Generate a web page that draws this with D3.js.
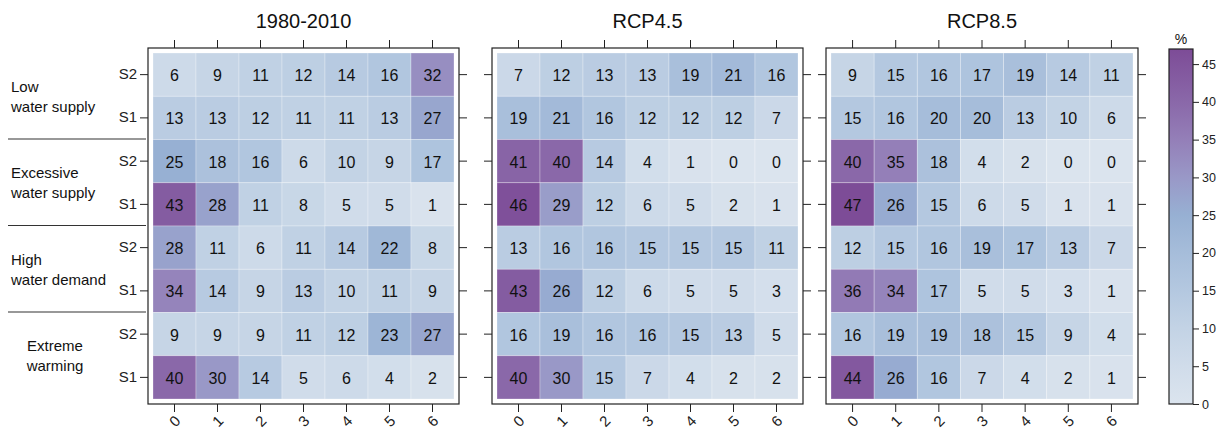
<!DOCTYPE html>
<html>
<head>
<meta charset="utf-8">
<script src="https://cdn.jsdelivr.net/npm/d3@7"></script>
<style>
  body { margin: 0; background: #fff; }
  svg { display: block; font-family: "Liberation Sans", Arial, Helvetica, sans-serif; }
</style>
</head>
<body>
<svg id="chart" width="1218" height="429"></svg>
<script>
// Heatmap panels: share of years (%) per scenario row and count column.

const COLS = ["0", "1", "2", "3", "4", "5", "6"];
const ROWS = ["S2", "S1", "S2", "S1", "S2", "S1", "S2", "S1"];
const GROUPS = [["Low", "water supply"], ["Excessive", "water supply"],
                ["High", "water demand"], ["Extreme", "warming"]];
const PANELS = ["1980-2010", "RCP4.5", "RCP8.5"];

const V_HIST = [
  [6, 9, 11, 12, 14, 16, 32],
  [13, 13, 12, 11, 11, 13, 27],
  [25, 18, 16, 6, 10, 9, 17],
  [43, 28, 11, 8, 5, 5, 1],
  [28, 11, 6, 11, 14, 22, 8],
  [34, 14, 9, 13, 10, 11, 9],
  [9, 9, 9, 11, 12, 23, 27],
  [40, 30, 14, 5, 6, 4, 2],
];
const V_RCP45 = [
  [7, 12, 13, 13, 19, 21, 16],
  [19, 21, 16, 12, 12, 12, 7],
  [41, 40, 14, 4, 1, 0, 0],
  [46, 29, 12, 6, 5, 2, 1],
  [13, 16, 16, 15, 15, 15, 11],
  [43, 26, 12, 6, 5, 5, 3],
  [16, 19, 16, 16, 15, 13, 5],
  [40, 30, 15, 7, 4, 2, 2],
];
const V_RCP85 = [
  [9, 15, 16, 17, 19, 14, 11],
  [15, 16, 20, 20, 13, 10, 6],
  [40, 35, 18, 4, 2, 0, 0],
  [47, 26, 15, 6, 5, 1, 1],
  [12, 15, 16, 19, 17, 13, 7],
  [36, 34, 17, 5, 5, 3, 1],
  [16, 19, 19, 18, 15, 9, 4],
  [44, 26, 16, 7, 4, 2, 1],
];
const VALUES = [V_HIST, V_RCP45, V_RCP85];
const LEGEND_TICKS = [0, 5, 10, 15, 20, 25, 30, 35, 40, 45];

const STOPS = [0, 5, 10, 15, 20, 25, 30, 35, 40, 47];
const STOP_COLORS = ["#dbe4ee", "#d0dcea", "#c3d3e5", "#b4c8e0", "#a6bdda",
                     "#97b0d3", "#9998c7", "#947fb8", "#8a68a9", "#7d4c97"];
const color = d3.scaleLinear().domain(STOPS).range(STOP_COLORS).clamp(true);

const svg = d3.select("#chart");
const yTop = 48, yBot = 404, inset = 5;
const panelX = [[148, 459], [492, 803], [826, 1138]];
const ink = "#222";

PANELS.forEach((title, p) => {
  const [x0, x1] = panelX[p];
  const x = d3.scaleBand().domain(d3.range(COLS.length)).range([x0 + inset, x1 - inset]);
  const y = d3.scaleBand().domain(d3.range(ROWS.length)).range([yTop + inset, yBot - inset]);
  const g = svg.append("g");

  const cells = VALUES[p].flatMap((row, r) => row.map((v, c) => ({ r, c, v })));
  g.selectAll("rect.cell").data(cells).join("rect")
    .attr("x", (d) => x(d.c)).attr("y", (d) => y(d.r))
    .attr("width", x.bandwidth()).attr("height", y.bandwidth())
    .attr("fill", (d) => color(d.v))
    .attr("stroke", "#fff").attr("stroke-opacity", 0.35).attr("stroke-width", 0.8);
  g.selectAll("text.val").data(cells).join("text")
    .attr("x", (d) => x(d.c) + x.bandwidth() / 2).attr("y", (d) => y(d.r) + y.bandwidth() / 2 + 1)
    .attr("text-anchor", "middle").attr("dominant-baseline", "central")
    .attr("font-size", 16).attr("fill", "#111").text((d) => d.v);

  // frame
  g.append("rect").attr("x", x0).attr("y", yTop).attr("width", x1 - x0).attr("height", yBot - yTop)
    .attr("fill", "none").attr("stroke", ink).attr("stroke-width", 1.2);

  // ticks all around
  COLS.forEach((lab, c) => {
    const cx = x(c) + x.bandwidth() / 2;
    g.append("line").attr("x1", cx).attr("x2", cx).attr("y1", yTop).attr("y2", yTop - 8)
      .attr("stroke", ink);
    g.append("line").attr("x1", cx).attr("x2", cx).attr("y1", yBot).attr("y2", yBot + 8)
      .attr("stroke", ink);
    g.append("text").attr("transform", `translate(${cx},${yBot + 17}) rotate(-45)`)
      .attr("text-anchor", "middle").attr("dominant-baseline", "central")
      .attr("font-size", 15).attr("fill", ink).text(lab);
  });
  ROWS.forEach((lab, r) => {
    const cy = y(r) + y.bandwidth() / 2;
    g.append("line").attr("x1", x0).attr("x2", x0 - 8).attr("y1", cy).attr("y2", cy).attr("stroke", ink);
    g.append("line").attr("x1", x1).attr("x2", x1 + 8).attr("y1", cy).attr("y2", cy).attr("stroke", ink);
    if (p === 0) {
      g.append("text").attr("x", x0 - 11).attr("y", cy - 1).attr("text-anchor", "end")
        .attr("dominant-baseline", "central").attr("font-size", 15).attr("fill", ink).text(lab);
    }
  });

  g.append("text").attr("x", (x0 + x1) / 2).attr("y", 28).attr("text-anchor", "middle")
    .attr("font-size", 20).attr("fill", "#111").text(title);
});

// group labels on the left
const rowY = d3.scaleBand().domain(d3.range(ROWS.length)).range([yTop + inset, yBot - inset]);
GROUPS.forEach((lines, i) => {
  const mid = rowY(i * 2) + rowY.bandwidth();
  const last = i === GROUPS.length - 1;
  lines.forEach((t, k) => {
    svg.append("text").attr("x", last ? 55 : 11).attr("y", mid - 10 + k * 20)
      .attr("text-anchor", last ? "middle" : "start").attr("dominant-baseline", "central")
      .attr("font-size", 15).attr("fill", "#111").text(t);
  });
  if (i > 0) {
    const yy = rowY(i * 2) - 0.5;
    svg.append("line").attr("x1", 8).attr("x2", 146).attr("y1", yy).attr("y2", yy)
      .attr("stroke", "#333").attr("stroke-width", 1.2);
  }
});

// colour key
const ky = d3.scaleLinear().domain([0, 47]).range([yBot, yTop + 1]);
const grad = svg.append("defs").append("linearGradient").attr("id", "kg")
  .attr("x1", 0).attr("x2", 0).attr("y1", 1).attr("y2", 0);
STOPS.forEach((s, i) => grad.append("stop").attr("offset", s / 47).attr("stop-color", STOP_COLORS[i]));
svg.append("rect").attr("x", 1169).attr("y", ky(47)).attr("width", 24).attr("height", ky(0) - ky(47))
  .attr("fill", "url(#kg)").attr("stroke", ink).attr("stroke-width", 1.2);
svg.append("g").attr("transform", "translate(1193,0)")
  .call(d3.axisRight(ky).tickValues(LEGEND_TICKS).tickSize(6).tickPadding(3))
  .call((a) => a.select(".domain").remove())
  .call((a) => a.selectAll("text").attr("font-size", 12.5).attr("fill", ink)
    .attr("font-family", "'Liberation Sans', Arial, sans-serif"))
  .call((a) => a.selectAll("line").attr("stroke", ink));
svg.append("text").attr("x", 1181).attr("y", 44).attr("text-anchor", "middle")
  .attr("font-size", 14).attr("fill", "#111").text("%");
</script>
</body>
</html>
